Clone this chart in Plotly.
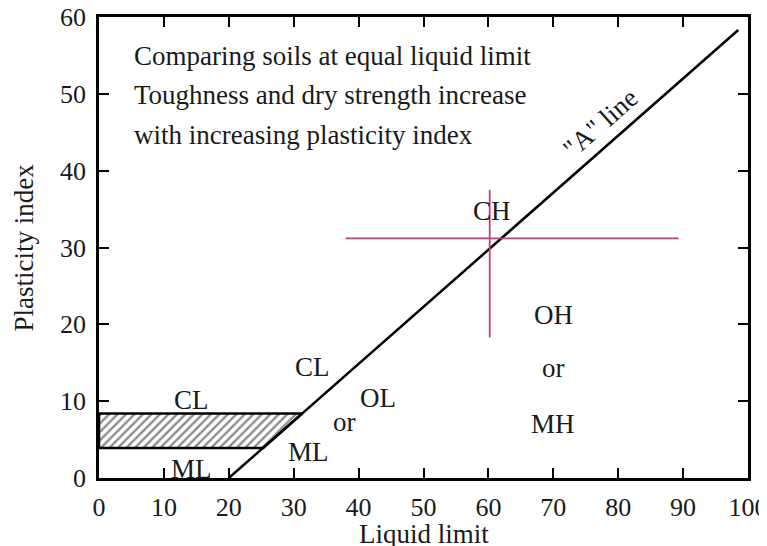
import plotly.graph_objects as go

# A line (Casagrande plasticity chart)
a_line_ll = [20, 98.5]
a_line_pi = [0, 58.3]

# hatched CL-ML zone
hatch_ll = [0, 25.3, 31.3, 0, 0]
hatch_pi = [3.9, 3.9, 8.4, 8.4, 3.9]

# magenta cross
cross_h_ll = [38.0, 89.3]
cross_h_pi = [31.2, 31.2]
cross_v_ll = [60.2, 60.2]
cross_v_pi = [18.3, 37.5]

# region labels
label_text = ["CL", "ML", "CL", "or", "ML", "OL", "CH", "OH", "or", "MH"]
label_ll = [14.3, 14.2, 32.9, 37.8, 32.3, 43.0, 60.6, 70.0, 70.0, 70.0]
label_pi = [10.1, 1.2, 14.4, 7.25, 3.35, 10.45, 34.7, 21.2, 14.35, 7.0]

note_lines = ["Comparing soils at equal liquid limit",
              "Toughness and dry strength increase",
              "with increasing plasticity index"]
note_ll = 5.15
note_pi = [54.9, 49.8, 44.6]

aline_label = '"A" line'
aline_label_ll = 77.3
aline_label_pi = 46.2

x_ticks = [0, 10, 20, 30, 40, 50, 60, 70, 80, 90, 100]
y_ticks = [0, 10, 20, 30, 40, 50, 60]

FONT = "Liberation Serif"
FS = 27
TFS = 26
TXT = "#1a1a1a"

fig = go.Figure()

fig.add_trace(go.Scatter(
    x=hatch_ll, y=hatch_pi, mode="lines", fill="toself",
    fillcolor="rgba(0,0,0,0)",
    fillpattern=dict(shape="/", size=6, solidity=0.4, fgcolor="#1a1a1a", bgcolor="white"),
    line=dict(color="black", width=2.5), hoverinfo="skip", showlegend=False))

fig.add_trace(go.Scatter(x=a_line_ll, y=a_line_pi, mode="lines",
                         line=dict(color="black", width=2.5), showlegend=False))
fig.add_trace(go.Scatter(x=cross_h_ll, y=cross_h_pi, mode="lines",
                         line=dict(color="#c0407c", width=1.8), showlegend=False))
fig.add_trace(go.Scatter(x=cross_v_ll, y=cross_v_pi, mode="lines",
                         line=dict(color="#c0407c", width=1.8), showlegend=False))

annotations = []
for t, x, y in zip(label_text, label_ll, label_pi):
    annotations.append(dict(x=x, y=y, xref="x", yref="y", text=t, showarrow=False,
                            font=dict(family=FONT, size=FS, color=TXT)))
for t, y in zip(note_lines, note_pi):
    annotations.append(dict(x=note_ll, y=y, xref="x", yref="y", text=t, showarrow=False,
                            xanchor="left", font=dict(family=FONT, size=FS, color=TXT)))
annotations.append(dict(x=aline_label_ll, y=aline_label_pi, xref="x", yref="y",
                        text=aline_label, showarrow=False, textangle=-41.3,
                        font=dict(family=FONT, size=FS, color=TXT)))
# axis titles
annotations.append(dict(x=0.5, y=0, xref="paper", yref="paper", text="Liquid limit",
                        showarrow=False, yanchor="middle", yshift=-56,
                        font=dict(family=FONT, size=FS, color=TXT)))
annotations.append(dict(x=0, y=0.5, xref="paper", yref="paper", text="Plasticity index",
                        showarrow=False, xanchor="center", xshift=-76, textangle=-90,
                        font=dict(family=FONT, size=FS, color=TXT)))

axis_common = dict(showgrid=False, zeroline=False, showline=True, linecolor="black",
                   linewidth=2.5, mirror="ticks", ticks="inside", ticklen=10,
                   tickwidth=1.5, tickcolor="black", automargin=False,
                   ticklabeloverflow="allow",
                   tickfont=dict(family=FONT, size=TFS, color=TXT))

# page body has an 8px margin, so the figure is sized to fill the rest of the window
fig.update_layout(
    width=759, height=538,
    margin=dict(l=90.5, r=19, t=9, b=68),
    plot_bgcolor="white", paper_bgcolor="white",
    showlegend=False,
    annotations=annotations,
    xaxis=dict(range=[0, 100], tickvals=x_ticks, ticklabelstandoff=4, **axis_common),
    yaxis=dict(range=[0, 60], tickvals=y_ticks, ticklabelstandoff=5, **axis_common),
)

fig.write_html("out.html")
